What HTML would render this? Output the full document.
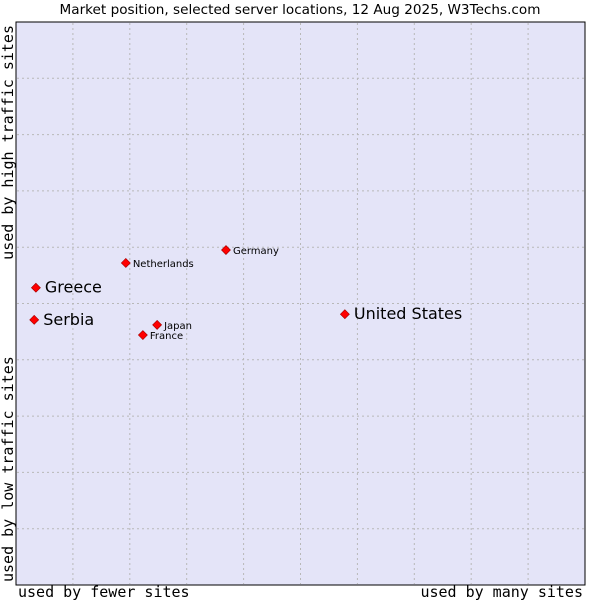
<!DOCTYPE html>
<html><head><meta charset="utf-8"><style>
body{margin:0;background:#fff}
svg{display:block}
</style></head><body>
<svg width="600" height="600" xmlns="http://www.w3.org/2000/svg">
<text x="300" y="14" text-anchor="middle" font-family="DejaVu Sans, sans-serif" font-size="13.6" fill="#000">Market position, selected server locations, 12 Aug 2025, W3Techs.com</text>
<rect x="16" y="22" width="569" height="563" fill="#e4e4f8" stroke="#000" stroke-width="1"/>
<g id="grid"></g>
<text x="18" y="597" font-family="DejaVu Sans Mono, monospace" font-size="15">used by fewer sites</text>
<text x="583" y="597" text-anchor="end" font-family="DejaVu Sans Mono, monospace" font-size="15">used by many sites</text>
<text transform="translate(13,25) rotate(-90)" text-anchor="end" font-family="DejaVu Sans Mono, monospace" font-size="15">used by high traffic sites</text>
<text transform="translate(13,582) rotate(-90)" text-anchor="start" font-family="DejaVu Sans Mono, monospace" font-size="15">used by low traffic sites</text>
<g id="points"></g>
</svg>
<script>
const countries = ["United States","Greece","Serbia","Netherlands","Germany","Japan","France"];
const xValues = [57.8, 3.5, 3.2, 19.3, 36.9, 24.8, 22.3];
const yValues = [48.1, 52.8, 47.1, 57.2, 59.5, 46.2, 44.4];
const bigLabel = [true, true, true, false, false, false, false];
const NS="http://www.w3.org/2000/svg";
const X0=16,X1=585,Y0=585,Y1=22;
function xs(v){return X0+(X1-X0)*v/100;}
function ys(v){return Y0-(Y0-Y1)*v/100;}
const grid=document.getElementById('grid');
for(let i=1;i<10;i++){
  const vx=document.createElementNS(NS,'line');
  
  
  vx.setAttribute('x1',xs(i*10));vx.setAttribute('x2',xs(i*10));
  vx.setAttribute('y1',Y1+1);vx.setAttribute('y2',Y0-1);
  vx.setAttribute('stroke','#b8b8b8');vx.setAttribute('stroke-dasharray','2,3');
  grid.appendChild(vx);
  const hy=document.createElementNS(NS,'line');
  
  
  hy.setAttribute('y1',ys(i*10));hy.setAttribute('y2',ys(i*10));
  hy.setAttribute('x1',X0+1);hy.setAttribute('x2',X1-1);
  hy.setAttribute('stroke','#b8b8b8');hy.setAttribute('stroke-dasharray','2,3');
  grid.appendChild(hy);
}
const pts=document.getElementById('points');
countries.forEach((c,i)=>{
  const x=xs(xValues[i]),y=ys(yValues[i]);
  const m=document.createElementNS(NS,'path');
  
  
  m.setAttribute('d',`M${x} ${y-4.5}L${x+4.5} ${y}L${x} ${y+4.5}L${x-4.5} ${y}Z`);
  m.setAttribute('fill','#ff0000');m.setAttribute('stroke','#a00000');m.setAttribute('stroke-width','0.6');
  pts.appendChild(m);
  const t=document.createElementNS(NS,'text');
  
  
  const big=bigLabel[i];
  t.setAttribute('x',x+(big?9:7));
  t.setAttribute('y',y+(big?5:4));
  t.setAttribute('font-family','DejaVu Sans, sans-serif');
  t.setAttribute('font-size',big?'16':'10');
  t.textContent=c;
  pts.appendChild(t);
});
</script>
</body></html>
